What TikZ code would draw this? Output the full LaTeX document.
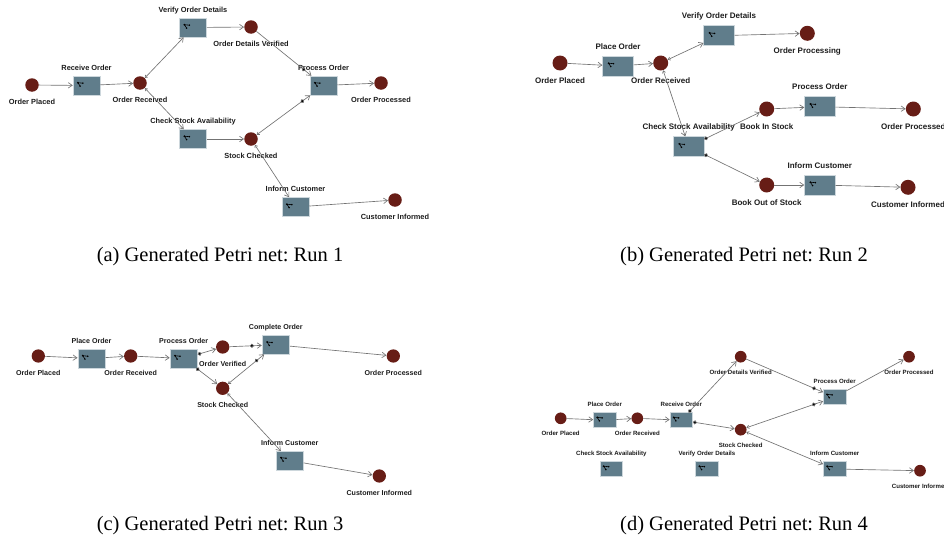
\documentclass[tikz,border=0pt]{standalone}
\usepackage{fontspec}
\setmainfont{Liberation Serif}
\setsansfont{Liberation Sans}
\usetikzlibrary{arrows.meta,calc}
\definecolor{placered}{RGB}{103,29,22}
\definecolor{transblue}{RGB}{96,125,139}
\definecolor{transedge}{RGB}{205,215,220}
\definecolor{arcgray}{RGB}{115,115,115}
\definecolor{lblgray}{RGB}{28,28,28}
\newcommand{\lblfont}[1]{\sffamily\bfseries\fontsize{#1}{#1}\selectfont}
\frenchspacing
\begin{document}
\begin{tikzpicture}
  [x=1pt,y=-1pt,>={Straight Barb[length=4pt,width=5.5pt]},
   place/.style={circle,fill=placered,inner sep=0pt,pl,label={[pd,lf]below:#1}},
   trans/.style={rectangle,fill=transblue,draw=transedge,line width=.5pt,inner sep=0pt,tr,
     label={[td,lf]above:#1},
     path picture={
       \coordinate (ic) at ($(path picture bounding box.west)!.27!(path picture bounding box.east)+(0pt,1.2pt)$);
       \draw[black,line width=.6pt] (ic) ++(-2.4pt,1.6pt) -- ++(2.2pt,-3.4pt)
         (ic) ++(-2.4pt,1.6pt) -- ++(5pt,-.5pt);
       \fill[black] (ic) ++(-2.4pt,1.6pt) circle (1pt) (ic) ++(-.2pt,-1.8pt) circle (.85pt)
         (ic) ++(2.6pt,1.1pt) circle (.85pt);}},
   every label/.style={text=lblgray,inner sep=0pt,text height=.75em,text depth=.2em},
   arc/.style={draw=arcgray,line width=.65pt,->},
   bi/.style={{Straight Barb[length=2.2pt,width=3.2pt]}->},
   dotin/.style={-{Circle[length=4pt,sep=3pt]>}},
   dotout/.style={{Circle[length=4pt]}->},
   bidot/.style={{Straight Barb[length=2.2pt,width=3.2pt]}-{Circle[length=4pt,sep=3pt]>}},
   caption/.style={font=\fontsize{20.5}{24}\selectfont,anchor=base,inner sep=0pt}]
  \useasboundingbox (0,0) rectangle (944,546);

  \begin{scope}[pl/.style={minimum size=13.5pt},pd/.style={label distance=5pt},
      tr/.style={minimum width=27pt,minimum height=19pt},td/.style={label distance=3.5pt},
      lf/.style={font=\lblfont{7.4}}]
    \node[place=Order Placed] (aplaced) at (32,85) {};
    \node[trans=Receive Order] (areceive) at (86.5,85.5) {};
    \node[place=Order Received] (arecvd) at (140,83) {};
    \node[trans=Verify Order Details] (averify) at (193,27.5) {};
    \node[place=Order Details Verified] (aodv) at (251,27) {};
    \node[trans=Check Stock Availability] (acheck) at (193,139) {};
    \node[place=Stock Checked] (astock) at (251,139) {};
    \node[trans=Process Order] (aprocess) at (323.5,85.5) {};
    \node[place=Order Processed] (aprocessed) at (381,83) {};
    \node[trans=Inform Customer] (ainform) at (295.5,207) {};
    \node[place=Customer Informed] (ainformed) at (395,200) {};

    \path[arc]
      (aplaced) edge (areceive)
      (areceive) edge (arecvd)
      (arecvd) edge[bi] (averify)
      (averify) edge (aodv)
      (arecvd) edge[bi] (acheck)
      (acheck) edge (astock)
      (aodv) edge[dotin] (aprocess)
      (astock) edge[bidot] (aprocess)
      (aprocess) edge (aprocessed)
      (astock) edge[bi] (ainform)
      (ainform) edge (ainformed);
  \end{scope}

  \begin{scope}[pl/.style={minimum size=15pt},pd/.style={label distance=5pt},
      tr/.style={minimum width=30.6pt,minimum height=20pt},td/.style={label distance=4.3pt},
      lf/.style={font=\lblfont{8}}]
    \node[place=Order Placed] (bplaced) at (560,63) {};
    \node[trans=Place Order] (bplace) at (618,66) {};
    \node[place=Order Received] (brecvd) at (660.7,63) {};
    \node[trans=Verify Order Details] (bverify) at (719,35.7) {};
    \node[place=Order Processing] (bprocessing) at (807.3,33.3) {};
    \node[trans=Check Stock Availability] (bcheck) at (688.7,146.7) {};
    \node[place=Book In Stock] (binstock) at (766.7,109) {};
    \node[trans=Process Order] (bprocess) at (819.8,106.7) {};
    \node[place=Order Processed] (bprocessed) at (913.3,109) {};
    \node[place=Book Out of Stock] (boutstock) at (766.7,185) {};
    \node[trans=Inform Customer] (binform) at (819.8,185) {};
    \node[place=Customer Informed] (binformed) at (908,187.3) {};

    \path[arc]
      (bplaced) edge (bplace)
      (bplace) edge (brecvd)
      (brecvd) edge[bi] (bverify)
      (bverify) edge (bprocessing)
      (brecvd) edge[bi] (bcheck)
      (bcheck) edge[dotout] (binstock)
      (bcheck) edge[dotout] (boutstock)
      (binstock) edge (bprocess)
      (bprocess) edge (bprocessed)
      (boutstock) edge (binform)
      (binform) edge (binformed);
  \end{scope}

  \begin{scope}[pl/.style={minimum size=13.3pt},pd/.style={label distance=5pt},
      tr/.style={minimum width=27.5pt,minimum height=18.5pt},td/.style={label distance=3.6pt},
      lf/.style={font=\lblfont{7.1}}]
    \node[place=Order Placed] (cplaced) at (38.3,356) {};
    \node[trans=Place Order] (cplace) at (91.5,358.5) {};
    \node[place=Order Received] (crecvd) at (130.7,356) {};
    \node[trans=Process Order] (cprocess) at (183.7,358.5) {};
    \node[place=Order Verified] (cverified) at (222.7,347) {};
    \node[trans=Complete Order] (ccomplete) at (275.8,344.8) {};
    \node[place=Order Processed] (cprocessed) at (393.3,356) {};
    \node[place=Stock Checked] (cstock) at (222.7,388.3) {};
    \node[trans=Inform Customer] (cinform) at (289.7,460.5) {};
    \node[place=Customer Informed] (cinformed) at (379.3,476) {};

    \path[arc]
      (cplaced) edge (cplace)
      (cplace) edge (crecvd)
      (crecvd) edge (cprocess)
      (cprocess) edge[dotout] (cverified)
      (cprocess) edge[dotout] (cstock)
      (cverified) edge[dotin] (ccomplete)
      (cstock) edge[bidot] (ccomplete)
      (ccomplete) edge (cprocessed)
      (cstock) edge[bi] (cinform)
      (cinform) edge (cinformed);
  \end{scope}

  \begin{scope}[pl/.style={minimum size=11.7pt},pd/.style={label distance=3.6pt},
      tr/.style={minimum width=22.7pt,minimum height=15pt},td/.style={label distance=3.3pt},
      lf/.style={font=\lblfont{6.1}}]
    \node[place=Order Placed] (dplaced) at (560.7,418.3) {};
    \node[trans=Place Order] (dplace) at (604.8,420.2) {};
    \node[place=Order Received] (drecvd) at (637.3,418.3) {};
    \node[trans=Receive Order] (dreceive) at (681.3,420.2) {};
    \node[place=Order Details Verified] (dodv) at (740.7,356.7) {};
    \node[trans=Process Order] (dprocess) at (834.7,397.2) {};
    \node[place=Order Processed] (dprocessed) at (909,356.7) {};
    \node[place=Stock Checked] (dstock) at (740.7,429.7) {};
    \node[trans=Inform Customer] (dinform) at (834.7,469) {};
    \node[place=Customer Informed] (dinformed) at (920,470.7) {};
    \node[trans=Check Stock Availability] (dcheck) at (611.3,469) {};
    \node[trans=Verify Order Details] (dverify) at (707,469) {};

    \path[arc]
      (dplaced) edge (dplace)
      (dplace) edge (drecvd)
      (drecvd) edge (dreceive)
      (dreceive) edge[dotout] (dodv)
      (dreceive) edge[dotout] (dstock)
      (dodv) edge[dotin] (dprocess)
      (dstock) edge[bidot] (dprocess)
      (dprocess) edge (dprocessed)
      (dstock) edge[bi] (dinform)
      (dinform) edge (dinformed);
  \end{scope}

  \node[caption] (capa) at (220,261) {(a) Generated Petri net: Run 1};
  \node[caption] (capb) at (744,261) {(b) Generated Petri net: Run 2};
  \node[caption] (capc) at (220,530) {(c) Generated Petri net: Run 3};
  \node[caption] (capd) at (744,530) {(d) Generated Petri net: Run 4};
\end{tikzpicture}
\end{document}
